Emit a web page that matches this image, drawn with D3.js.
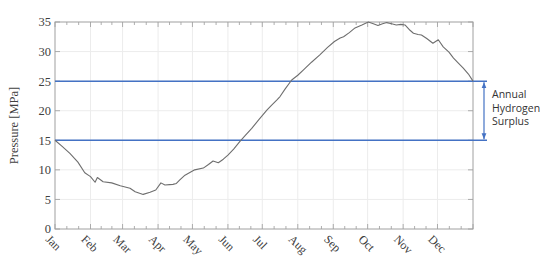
<!DOCTYPE html>
<html><head><meta charset="utf-8">
<script src="https://cdn.jsdelivr.net/npm/d3@7"></script>
<style>body{margin:0;background:#fff}svg{display:block}</style>
</head><body><div id="chart"></div>
<script>
const months = ["Jan","Feb","Mar","Apr","May","Jun","Jul","Aug","Sep","Oct","Nov","Dec"];
const monthStartDays = [0,31,59,90,120,151,181,212,243,273,304,334,365];
const yTicks = [0,5,10,15,20,25,30,35];
const surplusBounds = [15, 25];
const surplusLabel = ["Annual","Hydrogen","Surplus"];
const yLabel = "Pressure [MPa]";
// day of year, pressure in MPa
const days = [0,6,13,20,26,31,35,37,42,49.5,57,65.5,70,77,83,88,92.5,96,100,103,106,109,113.5,122,129.5,134,138,142.6,147,151,156,161.5,166,171.8,178,185,189,193.6,196.5,201,206.7,212,217,224,231,238,244,249,252,257,262,268,273.6,278,282,286,289.7,294,298,302,305.6,310,313,317,320,324.6,330,334.7,339,344,348,352,356.5,361,365];
const pressure = [15.0,14.0,12.8,11.3,9.5,8.85,7.9,8.7,8.0,7.8,7.3,6.9,6.3,5.85,6.2,6.6,7.8,7.45,7.5,7.55,7.7,8.3,9.1,10.0,10.3,10.9,11.5,11.2,11.8,12.5,13.5,14.8,15.8,17.0,18.5,20.1,20.9,21.8,22.4,23.7,25.2,26.0,26.9,28.2,29.4,30.7,31.7,32.3,32.5,33.2,34.0,34.5,35.0,34.7,34.4,34.7,34.9,34.7,34.5,34.6,34.5,33.6,33.1,32.9,32.8,32.2,31.4,32.0,30.8,29.9,28.9,28.1,27.2,26.2,25.0];

const W = 550, H = 263;
const m = {left:55, right:77, top:22, bottom:34};
const svg = d3.select("#chart").append("svg").attr("width",W).attr("height",H);
const x = d3.scaleLinear().domain([0,365]).range([m.left, W-m.right]);
const y = d3.scaleLinear().domain([0,35]).range([H-m.bottom, m.top]);
const x0 = x.range()[0], x1 = x.range()[1], y0 = y.range()[0], y1 = y.range()[1];

// grid
const g = svg.append("g");
g.selectAll(".vg").data(monthStartDays.slice(1,12)).join("line")
  .attr("x1",d=>x(d)).attr("x2",d=>x(d)).attr("y1",y1).attr("y2",y0)
  .attr("stroke","#ececec").attr("stroke-width",1);
g.selectAll(".hg").data(yTicks.slice(1,7)).join("line")
  .attr("x1",x0).attr("x2",x1).attr("y1",d=>y(d)).attr("y2",d=>y(d))
  .attr("stroke","#ececec").attr("stroke-width",1);

// minor ticks at thirds of months
const minor = [];
for (let i=0;i<12;i++){const a=monthStartDays[i],b=monthStartDays[i+1];minor.push(a+(b-a)/3,a+2*(b-a)/3);}
const tc = "#9a9a9a";
[y0,y1].forEach((yy,k)=>{
  const dir = k===0?-1:1;
  svg.selectAll(null).data(minor).join("line")
    .attr("x1",d=>x(d)).attr("x2",d=>x(d)).attr("y1",yy).attr("y2",yy+dir*3)
    .attr("stroke",tc).attr("stroke-width",0.8);
  svg.selectAll(null).data(monthStartDays).join("line")
    .attr("x1",d=>x(d)).attr("x2",d=>x(d)).attr("y1",yy).attr("y2",yy+dir*5)
    .attr("stroke",tc).attr("stroke-width",0.8);
});
[x0,x1].forEach((xx,k)=>{
  const dir = k===0?1:-1;
  svg.selectAll(null).data(yTicks).join("line")
    .attr("x1",xx).attr("x2",xx+dir*5).attr("y1",d=>y(d)).attr("y2",d=>y(d))
    .attr("stroke",tc).attr("stroke-width",0.8);
});
svg.append("rect").attr("x",x0).attr("y",y1).attr("width",x1-x0).attr("height",y0-y1)
  .attr("fill","none").attr("stroke","#a0a0a0").attr("stroke-width",1);

// y tick labels
svg.selectAll(".yl").data(yTicks).join("text")
  .attr("x",x0-4).attr("y",d=>y(d)).attr("dy","0.35em").attr("text-anchor","end")
  .attr("font-family","Liberation Serif, DejaVu Serif, serif").attr("font-size",12.5)
  .attr("fill","#404040").text(d=>d);

// x tick labels rotated
svg.selectAll(".xl").data(months).join("text")
  .attr("transform",(d,i)=>`translate(${x(monthStartDays[i])-4},${y0+5}) rotate(45)`)
  .attr("dy","0.7em")
  .attr("font-family","Liberation Serif, DejaVu Serif, serif").attr("font-size",12)
  .attr("fill","#404040").text(d=>d);

// y label
svg.append("text").attr("transform",`translate(18,${(y0+y1)/2}) rotate(-90)`)
  .attr("text-anchor","middle").attr("font-family","Liberation Serif, DejaVu Serif, serif")
  .attr("font-size",12.5).attr("fill","#404040").text(yLabel);

// surplus lines
const blue = "#4472c4";
svg.selectAll(".bl").data(surplusBounds).join("line")
  .attr("x1",x0).attr("x2",x1+14).attr("y1",d=>y(d)).attr("y2",d=>y(d))
  .attr("stroke",blue).attr("stroke-width",1.5);

// pressure curve
const line = d3.line().x((d,i)=>x(days[i])).y(d=>y(d));
svg.append("path").datum(pressure).attr("d",line).attr("fill","none")
  .attr("stroke","#6e6e6e").attr("stroke-width",1.1).attr("stroke-linejoin","round");

// arrow
const ax = x1+11;
const defs = svg.append("defs");
defs.append("marker").attr("id","ah").attr("viewBox","0 0 10 10").attr("refX",10).attr("refY",5)
  .attr("markerWidth",5).attr("markerHeight",5).attr("orient","auto-start-reverse")
  .append("path").attr("d","M0,1 L10,5 L0,9 Z").attr("fill",blue);
svg.append("line").attr("x1",ax).attr("x2",ax).attr("y1",y(surplusBounds[1])+1).attr("y2",y(surplusBounds[0])-1)
  .attr("stroke",blue).attr("stroke-width",1.2)
  .attr("marker-start","url(#ah)").attr("marker-end","url(#ah)");
svg.selectAll(".sl").data(surplusLabel).join("text")
  .attr("x",ax+8).attr("y",(d,i)=>98+i*13.5)
  .attr("font-family","Open Sans, Liberation Sans, sans-serif").attr("font-size",10.5)
  .attr("fill","#333").text(d=>d);
</script></body></html>
